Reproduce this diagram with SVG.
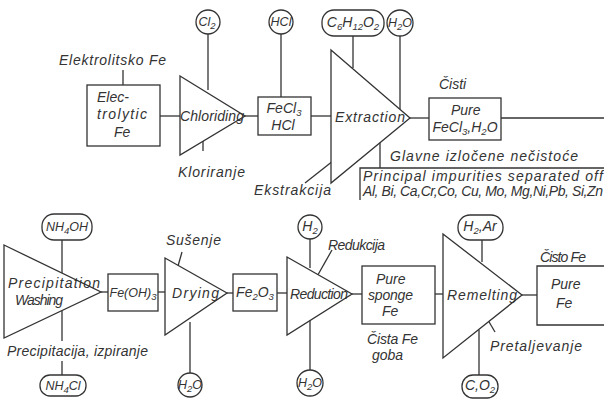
<svg xmlns="http://www.w3.org/2000/svg" width="604" height="404" viewBox="0 0 604 404">
<style>
.s{fill:none;stroke:#333;stroke-width:1.3}
.n{fill:#fff;stroke:#333;stroke-width:1.3}
text{font-family:"Liberation Sans",Arial,sans-serif;font-style:italic;font-size:14px;fill:#333}
.c{text-anchor:middle}
.k{font-size:12.5px}
.sub{font-size:9.5px}
</style>
<rect width="604" height="404" fill="#fff"/>
<g id="connectors" class="s">
<line x1="208" y1="34" x2="208" y2="90"/>
<line x1="123" y1="70" x2="123" y2="85"/>
<line x1="160" y1="116" x2="180" y2="116"/>
<line x1="203" y1="134" x2="203" y2="151"/>
<line x1="245" y1="116" x2="258" y2="116"/>
<line x1="281" y1="34" x2="281" y2="97"/>
<line x1="311" y1="116" x2="331" y2="116"/>
<line x1="353" y1="36" x2="353" y2="68"/>
<line x1="400" y1="36" x2="400" y2="109"/>
<line x1="305" y1="183" x2="338" y2="157"/>
<line x1="380" y1="142" x2="380" y2="168"/>
<line x1="410" y1="118" x2="429" y2="118"/>
<line x1="501" y1="118" x2="604" y2="118"/>
<line x1="62" y1="240" x2="62" y2="273"/>
<line x1="62" y1="311" x2="62" y2="341"/>
<line x1="62" y1="361" x2="62" y2="375"/>
<line x1="101" y1="292" x2="108" y2="292"/>
<line x1="158" y1="292" x2="165" y2="292"/>
<line x1="182" y1="252" x2="178" y2="266"/>
<line x1="190" y1="322" x2="190" y2="373"/>
<line x1="227" y1="293" x2="233" y2="293"/>
<line x1="277" y1="293" x2="287" y2="293"/>
<line x1="310" y1="239" x2="310" y2="268"/>
<line x1="332" y1="250" x2="315" y2="280"/>
<line x1="310" y1="320" x2="310" y2="370"/>
<line x1="352" y1="294" x2="362" y2="294"/>
<line x1="435" y1="294" x2="443" y2="294"/>
<line x1="482" y1="240" x2="482" y2="262"/>
<line x1="479" y1="330" x2="479" y2="375"/>
<line x1="485" y1="315" x2="495" y2="332"/>
<line x1="522" y1="295" x2="537" y2="295"/>
</g>
<g id="cl2"><circle class="n" cx="208" cy="22" r="12"/><text x="207" y="26" class="c k">Cl<tspan class="sub" dy="3">2</tspan></text></g>
<g id="electrolytic-fe"><text x="59" y="65" textLength="107">Elektrolitsko Fe</text><rect class="n" x="87" y="85" width="73" height="61"/><text x="97" y="102">Elec-</text><text x="97" y="119" textLength="50">trolytic</text><text x="114" y="137">Fe</text></g>
<g id="chloriding"><polygon class="n" points="180,76 245,116 180,155"/><text x="180" y="121" textLength="64">Chloriding</text><text x="178" y="177" textLength="67">Kloriranje</text></g>
<g id="hcl"><circle class="n" cx="281" cy="22" r="12"/><text x="281" y="26" class="c k">HCl</text></g>
<g id="fecl3-hcl"><rect class="n" x="258" y="97" width="53" height="38"/><text x="284" y="113" class="c">FeCl<tspan class="sub" dy="3">3</tspan></text><text x="283" y="130" class="c">HCl</text></g>
<g id="c6h12o2"><rect class="n" x="322" y="10" width="62" height="26" rx="12"/><text x="353" y="27" class="c">C<tspan class="sub" dy="3">6</tspan><tspan dy="-3">H</tspan><tspan class="sub" dy="3">12</tspan><tspan dy="-3">O</tspan><tspan class="sub" dy="3">2</tspan></text></g>
<g id="h2o-top"><circle class="n" cx="400" cy="23" r="13"/><text x="400" y="27" class="c k">H<tspan class="sub" dy="3">2</tspan><tspan dy="-3">O</tspan></text></g>
<g id="extraction"><polygon class="n" points="331,50 410,118 331,183"/><text x="335" y="122" textLength="70">Extraction</text><text x="254" y="195" textLength="77">Ekstrakcija</text></g>
<g id="pure-fecl3"><text x="439" y="89">Čisti</text><rect class="n" x="429" y="98" width="72" height="42"/><text x="451" y="115">Pure</text><text x="465" y="132" class="c">FeCl<tspan class="sub" dy="3">3</tspan><tspan dy="-3">,H</tspan><tspan class="sub" dy="3">2</tspan><tspan dy="-3">O</tspan></text></g>
<g id="impurities"><text x="390" y="161" textLength="188">Glavne izločene nečistoće</text><polyline class="s" points="360,200 360,168 604,168"/><text x="363" y="181" textLength="240">Principal impurities separated off</text><text x="363" y="196" textLength="240">Al, Bi, Ca,Cr,Co, Cu, Mo, Mg,Ni,Pb, Si,Zn</text></g>
<g id="nh4oh"><rect class="n" x="42" y="214" width="50" height="26" rx="12"/><text x="67" y="231" class="c k">NH<tspan class="sub" dy="3">4</tspan><tspan dy="-3">OH</tspan></text></g>
<g id="precipitation"><polygon class="n" points="4,245 101,292 4,338"/><text x="8" y="288" textLength="92">Precipitation</text><text x="15" y="305" textLength="48">Washing</text><text x="7" y="356" textLength="141">Precipitacija, izpiranje</text></g>
<g id="nh4cl"><rect class="n" x="40" y="375" width="46" height="21" rx="10"/><text x="63" y="390" class="c k">NH<tspan class="sub" dy="3">4</tspan><tspan dy="-3">Cl</tspan></text></g>
<g id="feoh3"><rect class="n" x="108" y="274" width="50" height="37"/><text x="133" y="297" class="c k">Fe(OH)<tspan class="sub" dy="3">3</tspan></text></g>
<g id="drying"><text x="166" y="245" textLength="55">Sušenje</text><polygon class="n" points="165,258 227,293 165,335"/><text x="172" y="298" textLength="47">Drying</text></g>
<g id="h2o-drying"><circle class="n" cx="190" cy="385" r="12"/><text x="190" y="389" class="c k">H<tspan class="sub" dy="3">2</tspan><tspan dy="-3">O</tspan></text></g>
<g id="fe2o3"><rect class="n" x="233" y="274" width="44" height="37"/><text x="255" y="297" class="c">Fe<tspan class="sub" dy="3">2</tspan><tspan dy="-3">O</tspan><tspan class="sub" dy="3">3</tspan></text></g>
<g id="h2"><circle class="n" cx="310" cy="227" r="12"/><text x="310" y="231" class="c">H<tspan class="sub" dy="3">2</tspan></text></g>
<g id="reduction"><text x="328" y="250" textLength="57">Redukcija</text><polygon class="n" points="287,257 352,294 287,335"/><text x="290" y="299" textLength="58">Reduction</text></g>
<g id="h2o-reduction"><circle class="n" cx="310" cy="383" r="13"/><text x="310" y="387" class="c k">H<tspan class="sub" dy="3">2</tspan><tspan dy="-3">O</tspan></text></g>
<g id="sponge-fe"><rect class="n" x="362" y="266" width="73" height="58"/><text x="376" y="284">Pure</text><text x="368" y="300" textLength="45">sponge</text><text x="382" y="316">Fe</text><text x="367" y="344" textLength="51">Čista Fe</text><text x="372" y="360">goba</text></g>
<g id="h2-ar"><rect class="n" x="458" y="215" width="45" height="25" rx="12"/><text x="480" y="231" class="c">H<tspan class="sub" dy="3">2</tspan><tspan dy="-3">,Ar</tspan></text></g>
<g id="remelting"><polygon class="n" points="443,234 522,295 443,358"/><text x="447" y="300" textLength="70">Remelting</text><text x="490" y="351" textLength="92">Pretaljevanje</text></g>
<g id="c-o2"><rect class="n" x="462" y="375" width="36" height="23" rx="11"/><text x="480" y="390" class="c">C,O<tspan class="sub" dy="3">2</tspan></text></g>
<g id="pure-fe"><text x="540" y="262" textLength="46">Čisto Fe</text><polyline class="n" points="604,266 537,266 537,325 604,325"/><text x="551" y="289">Pure</text><text x="556" y="308">Fe</text></g>
</svg>
